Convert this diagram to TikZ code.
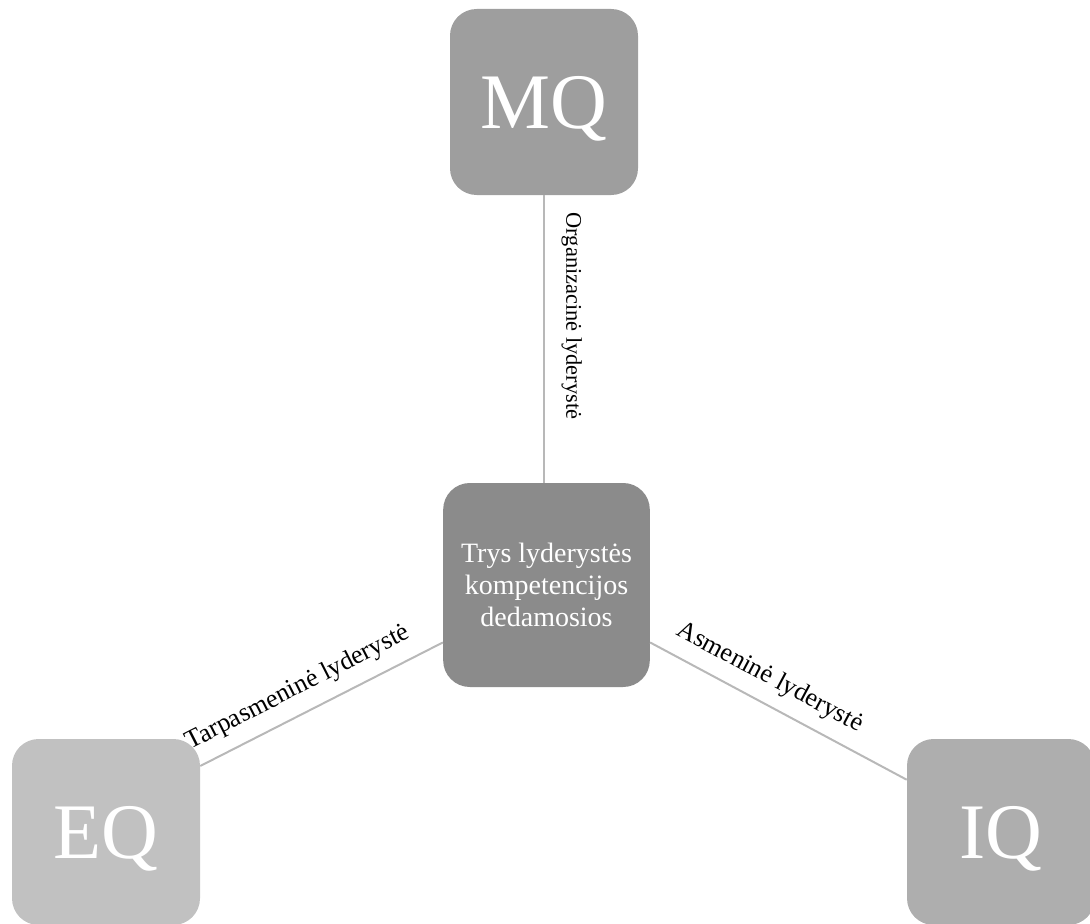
\documentclass[tikz,border=0pt]{standalone}
\usepackage{fontspec}
\setmainfont{Liberation Serif}
\usepackage{tikz}

\definecolor{mqgray}{HTML}{9E9E9E}
\definecolor{ctrgray}{HTML}{8B8B8B}
\definecolor{eqgray}{HTML}{C1C1C1}
\definecolor{iqgray}{HTML}{AEAEAE}
\definecolor{linkgray}{HTML}{B8B8B8}

\begin{document}
\begin{tikzpicture}[x=0.75pt,y=-0.75pt,
  box/.style={rectangle, rounded corners=20pt, text=white, inner sep=0pt,
    minimum width=141pt, minimum height=139.5pt},
  qbox/.style={box, font=\fontsize{59}{60}\selectfont, text depth=0pt},
  link/.style={draw=linkgray, line width=1.5pt},
  lbl/.style={font=\fontsize{19.5}{22}\selectfont, sloped, above=6pt}]

\useasboundingbox (0,0) rectangle (1090,924);

\node[qbox, fill=mqgray] (mq) at (544,102) {MQ};
\node[box, fill=ctrgray, minimum width=155pt, minimum height=153pt,
  align=center, font=\fontsize{21}{24}\selectfont] (ctr) at (546.5,585)
  {Trys lyderystės\\kompetencijos\\dedamosios};
\node[qbox, fill=eqgray] (eq) at (106,832) {EQ};
\node[qbox, fill=iqgray] (iq) at (1001,832) {IQ};

% jungtys
\draw[link] (ctr.north -| mq.south) -- node[pos=0.58, rotate=-90, above=9pt,
  font=\fontsize{16.8}{20}\selectfont] {Organizacinė lyderystė} (mq.south);
\draw[link] (ctr.209) -- node[pos=0.55, lbl] {Tarpasmeninė lyderystė} (eq.35);
\draw[link] (ctr.331) -- node[pos=0.42, lbl] {Asmeninė lyderystė} (iq.151);
\end{tikzpicture}
\end{document}
